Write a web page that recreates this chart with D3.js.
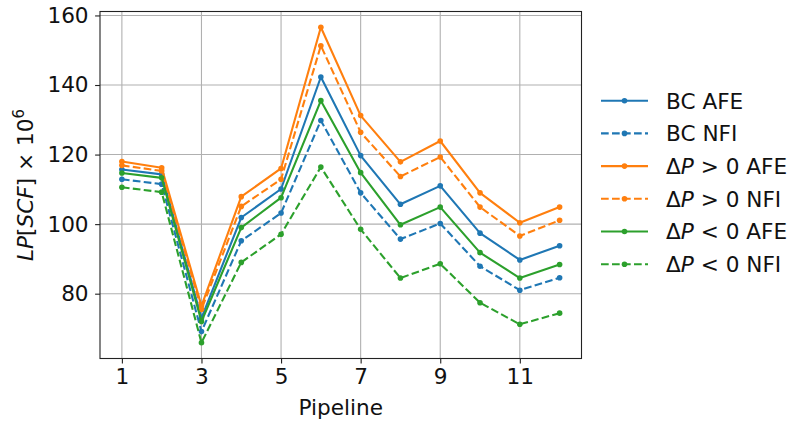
<!DOCTYPE html>
<html>
<head>
<meta charset="utf-8">
<script src="https://cdn.jsdelivr.net/npm/d3@7"></script>
<style>
  html, body { margin: 0; padding: 0; background: #fff; }
  svg { display: block; font-family: "DejaVu Sans", sans-serif; }
</style>
</head>
<body>
<svg id="chart" width="789" height="426"></svg>
<script>
// Pipelines on the x axis
const pipelines = [1, 2, 3, 4, 5, 6, 7, 8, 9, 10, 11, 12];
const xTicks = [1, 3, 5, 7, 9, 11];
const yTicks = [80, 100, 120, 140, 160];

// LP[SCF] x 10^6 per pipeline
const bcAFE   = [115.7, 114.3, 73.0, 101.9, 110.1, 142.3, 119.7, 105.7, 111.0, 97.4, 89.7, 93.8];
const bcNFI   = [112.9, 111.5, 69.1, 95.2, 103.2, 129.8, 109.0, 95.7, 100.2, 87.9, 81.0, 84.6];
const dpPosAFE = [118.0, 116.2, 76.5, 107.9, 116.0, 156.6, 131.2, 117.9, 123.9, 109.0, 100.4, 104.9];
const dpPosNFI = [116.9, 115.3, 75.5, 105.1, 112.9, 151.3, 126.4, 113.7, 119.3, 104.9, 96.6, 101.1];
const dpNegAFE = [114.7, 113.3, 72.0, 99.0, 107.6, 135.5, 114.8, 99.8, 104.9, 91.8, 84.5, 88.4];
const dpNegNFI = [110.6, 109.2, 65.9, 89.0, 97.1, 116.4, 98.5, 84.5, 88.6, 77.4, 71.2, 74.4];

const series = [
  { name: "BC AFE",  rel: null, values: bcAFE,    color: "#1f77b4", dashed: false },
  { name: "BC NFI",  rel: null, values: bcNFI,    color: "#1f77b4", dashed: true },
  { name: "AFE",     rel: ">",  values: dpPosAFE, color: "#ff7f0e", dashed: false },
  { name: "NFI",     rel: ">",  values: dpPosNFI, color: "#ff7f0e", dashed: true },
  { name: "AFE",     rel: "<",  values: dpNegAFE, color: "#2ca02c", dashed: false },
  { name: "NFI",     rel: "<",  values: dpNegNFI, color: "#2ca02c", dashed: true }
];

const FONT = 21.6;
const svg = d3.select("#chart");
const plot = { left: 100, right: 581.5, top: 11.5, bottom: 358.5 };

// Matplotlib-style 5% margins around the data
const allVals = series.flatMap(s => s.values);
const yMin = d3.min(allVals), yMax = d3.max(allVals);
const yPad = (yMax - yMin) * 0.05;
const xPad = (d3.max(pipelines) - d3.min(pipelines)) * 0.05;

const x = d3.scaleLinear()
  .domain([d3.min(pipelines) - xPad, d3.max(pipelines) + xPad])
  .range([plot.left, plot.right]);
const y = d3.scaleLinear()
  .domain([yMin - yPad, yMax + yPad])
  .range([plot.bottom, plot.top]);

// Grid
const grid = svg.append("g").attr("stroke", "#b0b0b0").attr("stroke-width", 1.1);
xTicks.forEach(t => grid.append("line")
  .attr("x1", x(t)).attr("x2", x(t)).attr("y1", plot.top).attr("y2", plot.bottom));
yTicks.forEach(t => grid.append("line")
  .attr("x1", plot.left).attr("x2", plot.right).attr("y1", y(t)).attr("y2", y(t)));

// Lines and markers
const line = d3.line().x((d, i) => x(pipelines[i])).y(d => y(d));
series.forEach(s => {
  svg.append("path")
    .attr("d", line(s.values))
    .attr("fill", "none")
    .attr("stroke", s.color)
    .attr("stroke-width", 2.1)
    .attr("stroke-dasharray", s.dashed ? "7.7,3.3" : null)
    .attr("stroke-linejoin", "round");
  svg.append("g").selectAll("circle").data(s.values).join("circle")
    .attr("cx", (d, i) => x(pipelines[i]))
    .attr("cy", d => y(d))
    .attr("r", 2.8)
    .attr("fill", s.color);
});

// Axes
const xAxis = svg.append("g")
  .attr("transform", `translate(0,${plot.bottom})`)
  .call(d3.axisBottom(x).tickValues(xTicks).tickSizeOuter(0).tickSize(4.9).tickPadding(5));
const yAxis = svg.append("g")
  .attr("transform", `translate(${plot.left},0)`)
  .call(d3.axisLeft(y).tickValues(yTicks).tickSizeOuter(0).tickSize(4.9).tickPadding(6.5));
[xAxis, yAxis].forEach(a => {
  a.select(".domain").remove();
  a.selectAll("line").attr("stroke", "#222").attr("stroke-width", 1.1);
  a.selectAll("text").attr("font-size", FONT).attr("fill", "#111")
    .attr("font-family", "DejaVu Sans");
});

// Frame
svg.append("rect")
  .attr("x", plot.left).attr("y", plot.top)
  .attr("width", plot.right - plot.left).attr("height", plot.bottom - plot.top)
  .attr("fill", "none").attr("stroke", "#222").attr("stroke-width", 1.1);

// Axis labels
svg.append("text")
  .attr("x", (plot.left + plot.right) / 2).attr("y", 415)
  .attr("text-anchor", "middle").attr("font-size", FONT).attr("fill", "#111")
  .text("Pipeline");

const yl = svg.append("text")
  .attr("transform", `translate(33,${(plot.top + plot.bottom) / 2}) rotate(-90)`)
  .attr("text-anchor", "middle").attr("font-size", FONT).attr("fill", "#111");
yl.append("tspan").attr("font-style", "italic").text("LP");
yl.append("tspan").text("[");
yl.append("tspan").attr("font-style", "italic").text("SCF");
yl.append("tspan").text("] × 10");
yl.append("tspan").attr("font-size", 15).attr("dy", -9).text("6");

// Legend
const legend = svg.append("g");
series.forEach((s, i) => {
  const ly = 100.7 + i * 32.7;
  legend.append("line")
    .attr("x1", 601).attr("x2", 648).attr("y1", ly).attr("y2", ly)
    .attr("stroke", s.color).attr("stroke-width", 2.1)
    .attr("stroke-dasharray", s.dashed ? "7.7,3.3" : null);
  legend.append("circle").attr("cx", 624.5).attr("cy", ly).attr("r", 2.8).attr("fill", s.color);
  const t = legend.append("text")
    .attr("x", 666).attr("y", ly + 7.8)
    .attr("font-size", FONT).attr("fill", "#111");
  if (s.rel) {
    t.append("tspan").text("Δ");
    t.append("tspan").attr("font-style", "italic").text("P");
    t.append("tspan").text(` ${s.rel} 0 ${s.name}`);
  } else {
    t.text(s.name);
  }
});
</script>
</body>
</html>
